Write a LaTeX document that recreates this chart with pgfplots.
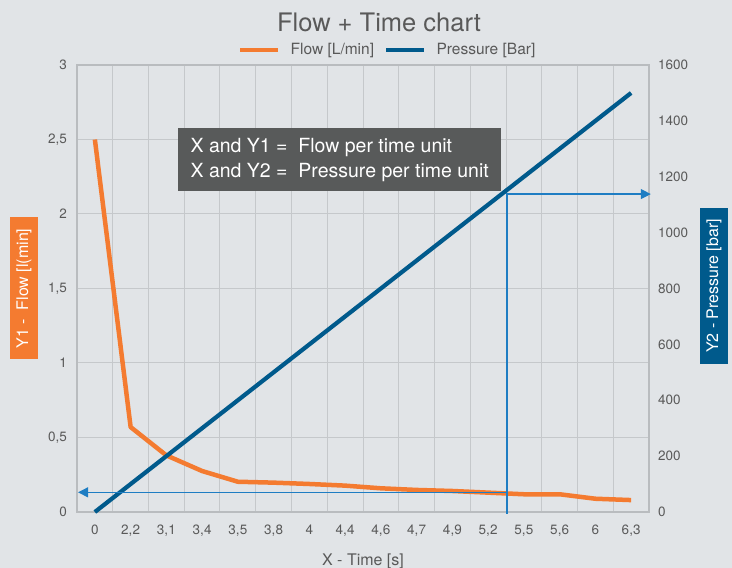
\documentclass[border=0pt]{standalone}
\usepackage{fontspec}
\setmainfont{TeX Gyre Heros}
\usepackage{pgfplots}
\pgfplotsset{compat=1.18}
\usetikzlibrary{arrows.meta}

\definecolor{bg}{RGB}{225,228,231}
\definecolor{orangeC}{RGB}{244,123,48}
\definecolor{blueC}{RGB}{0,90,140}
\definecolor{arrowB}{RGB}{30,125,195}
\definecolor{boxgray}{RGB}{88,90,90}
\definecolor{gridgray}{RGB}{197,200,203}
\definecolor{framegray}{RGB}{185,188,191}
\definecolor{textgray}{RGB}{89,89,89}

\pgfplotsset{
  base/.style={
    scale only axis, width=572pt, height=447pt,
    at={(77pt,56pt)}, anchor=south west,
    xmin=-0.5, xmax=15.5, clip=false,
    major tick length=0pt, minor tick length=0pt,
    /pgf/number format/assume math mode=true,
    ticklabel style={font=\fontsize{13.5}{16}\selectfont, text=textgray},
  }
}

\begin{document}
\begin{tikzpicture}[x=1pt,y=1pt]
\fill[bg] (0,0) rectangle (732,568);
\path[use as bounding box] (0,0) rectangle (732,568);

% left axis: flow
\begin{axis}[base,
  ymin=0, ymax=3, ytick={0,0.5,...,3},
  ytick pos=left, xtick pos=bottom,
  xtick={0,...,15},
  xticklabels={0,{2,2},{3,1},{3,4},{3,5},{3,8},4,{4,4},{4,6},{4,7},{4,9},{5,2},{5,5},{5,6},6,{6,3}},
  minor xtick={-0.5,0.5,...,15.5},
  ymajorgrids, xminorgrids,
  grid style={gridgray, line width=1pt},
  minor grid style={gridgray, line width=1pt},
  axis line style={framegray, line width=2.2pt},
  yticklabel style={anchor=east, inner sep=0pt, xshift=-10pt,
    /pgf/number format/.cd, use comma, fixed},
  xticklabel style={anchor=north, inner sep=0pt, yshift=-13pt},
  xlabel={X - Time [s]},
  xlabel style={at={(axis description cs:0.5,-0.11)}, anchor=center,
    font=\fontsize{16}{19}\selectfont, text=textgray},
  ylabel={Y1 - \ Flow [l(min]},
  ylabel style={at={(axis description cs:-0.0927,0.5)}, anchor=center,
    fill=orangeC, text=white, minimum width=142pt, minimum height=28pt,
    inner sep=0pt, font=\fontsize{16}{19}\selectfont},
  legend style={at={(axis description cs:0.2815,1.0336)}, anchor=west,
    draw=none, fill=none, legend columns=2, column sep=8pt, inner sep=0pt,
    font=\fontsize{15.5}{18}\selectfont, text=textgray},
  legend image code/.code={\draw[#1] (0pt,0pt) -- (38pt,0pt);},
]
\addplot[orangeC, line width=4.5pt, line join=round] coordinates {
  (0,2.5) (1,0.57) (2,0.38) (3,0.275) (4,0.203) (5,0.197) (6,0.188) (7,0.177)
  (8,0.159) (9,0.148) (10,0.141) (11,0.13) (12,0.119) (13,0.119) (14,0.089) (15,0.08)
};
\addlegendentry{Flow [L/min]\hspace{5pt}}
\addlegendimage{blueC, line width=4.5pt}
\addlegendentry{Pressure [Bar]}
\end{axis}

% right axis: pressure
\begin{axis}[base,
  ymin=0, ymax=1600, ytick={0,200,...,1600},
  axis x line=none, axis y line*=right,
  axis line style={draw=none},
  yticklabel style={anchor=west, inner sep=0pt, xshift=9pt,
    /pgf/number format/1000 sep={}},
  ylabel={Y2 - Pressure [bar]},
  ylabel style={at={(axis description cs:1.1136,0.5056)}, anchor=center,
    fill=blueC, text=white, minimum width=156pt, minimum height=28pt,
    inner sep=0pt, font=\fontsize{16}{19}\selectfont},
]
\addplot[blueC, line width=4.2pt, line join=round] coordinates {
  (0,0) (1,100) (2,200) (3,300) (4,400) (5,500) (6,600) (7,700)
  (8,800) (9,900) (10,1000) (11,1100) (12,1200) (13,1300) (14,1400) (15,1500)
};
\draw[arrowB, line width=1.2pt, -{Triangle[length=10pt,width=10pt]}]
  (axis cs:11.53,-7) -- (axis cs:11.53,1138) -- (axis cs:15.55,1138);
\draw[arrowB, line width=1.2pt, -{Triangle[length=10pt,width=10pt]}]
  (axis cs:11.53,70.4) -- (axis cs:-0.47,70.4);
\end{axis}

\node[fill=boxgray, text=white, anchor=north west, minimum height=63pt,
  minimum width=323pt, inner xsep=0pt, align=left,
  font=\fontsize{19.5}{25}\selectfont] at (178,440)
  {X and Y1 = \ Flow per time unit\\X and Y2 = \ Pressure per time unit};

\node[font=\fontsize{25.5}{30}\selectfont, text=textgray] at (379,546) {Flow + Time chart};
\end{tikzpicture}
\end{document}
